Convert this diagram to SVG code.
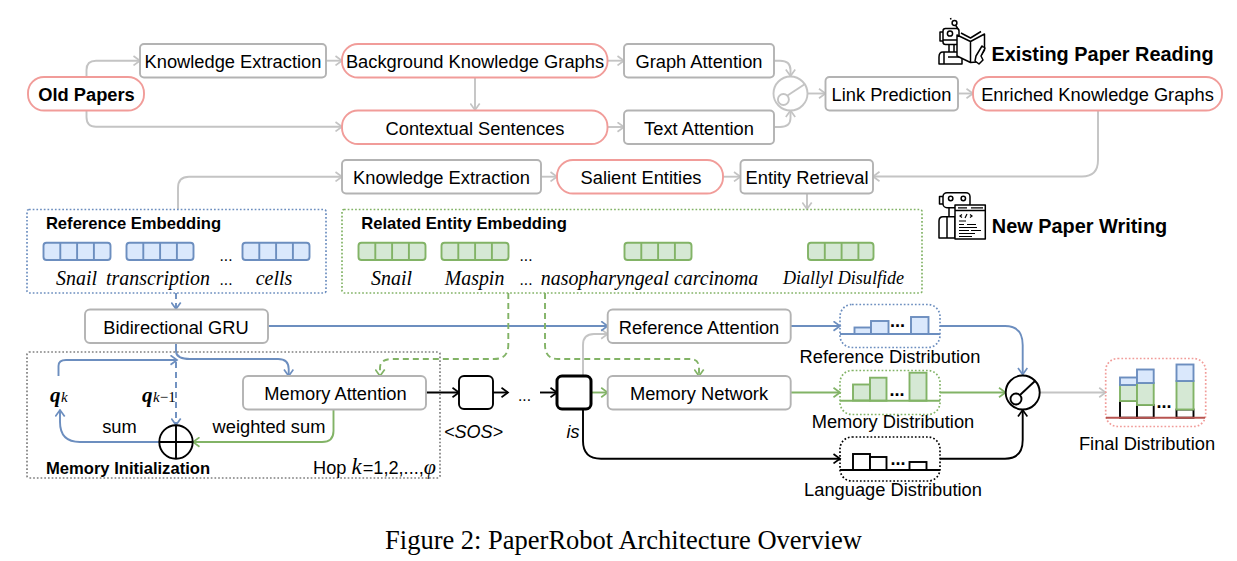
<svg xmlns="http://www.w3.org/2000/svg" width="1237" height="561" viewBox="0 0 1237 561">
<style>
text{font-family:"Liberation Sans",Arial,sans-serif;font-size:18.3px;fill:#000;text-anchor:middle}
.b{font-weight:bold}
.h{font-weight:bold;font-size:16.6px}
.t{font-weight:bold;font-size:19.9px}
.e{font-size:15.6px}
.bd{font-weight:bold;font-size:18px}
.s{font-family:"Liberation Serif","Times New Roman",serif;font-style:italic;font-size:19.9px}
.box{fill:#fff;stroke:#b3b3b3;stroke-width:1.9}
.pill{fill:#fff;stroke:#f19c99;stroke-width:1.9}
.c{fill:none;stroke-width:1.9}
.gr{stroke:#c4c4c4}.bl{stroke:#6c8ebf}.gn{stroke:#82b366}.bk{stroke:#000}
.d{stroke-dasharray:6 4}
.dot{fill:none;stroke-width:1.7;stroke-dasharray:1.7 2}
.be{fill:#dae8fc;stroke:#6c8ebf;stroke-width:1.9}
.ge{fill:#d5e8d4;stroke:#82b366;stroke-width:1.9}
.w{fill:#fff;stroke:#000;stroke-width:1.9}
.i{fill:none;stroke:#000;stroke-width:1.5;stroke-linejoin:round}
.iw{fill:#fff;stroke:#000;stroke-width:1.5;stroke-linejoin:round}
</style>
<defs>
<marker id="ag" markerWidth="10" markerHeight="11" refX="8.5" refY="5.5" orient="auto" markerUnits="userSpaceOnUse"><path d="M2 0.8L8.5 5.5L2 10.2" fill="none" stroke="#c4c4c4" stroke-width="1.7"/></marker>
<marker id="ab" markerWidth="10" markerHeight="11" refX="8.5" refY="5.5" orient="auto" markerUnits="userSpaceOnUse"><path d="M2 0.8L8.5 5.5L2 10.2" fill="none" stroke="#6c8ebf" stroke-width="1.7"/></marker>
<marker id="an" markerWidth="10" markerHeight="11" refX="8.5" refY="5.5" orient="auto" markerUnits="userSpaceOnUse"><path d="M2 0.8L8.5 5.5L2 10.2" fill="none" stroke="#82b366" stroke-width="1.7"/></marker>
<marker id="ak" markerWidth="10" markerHeight="11" refX="8.5" refY="5.5" orient="auto" markerUnits="userSpaceOnUse"><path d="M2 0.8L8.5 5.5L2 10.2" fill="none" stroke="#000" stroke-width="1.7"/></marker>
<g id="cells"><path d="M16.8 0V17.3M33.6 0V17.3M50.4 0V17.3" fill="none" stroke-width="1.9"/></g>
</defs>

<g id="connectors">
<path class="c gr" marker-end="url(#ag)" d="M86.5 77V70Q86.5 60.7 96 60.7H140"/>
<path class="c gr" marker-end="url(#ag)" d="M86.5 110V117Q86.5 126.7 96 126.7H342"/>
<path class="c gr" marker-end="url(#ag)" d="M326 60.7H342"/>
<path class="c gr" marker-end="url(#ag)" d="M475 77V110"/>
<path class="c gr" marker-end="url(#ag)" d="M608 60.7H624"/>
<path class="c gr" marker-end="url(#ag)" d="M608 127H624"/>
<path class="c gr" marker-end="url(#ag)" d="M774 60.7H780Q790.5 60.7 790.5 70V76"/>
<path class="c gr" marker-end="url(#ag)" d="M774 127H780Q790.5 127 790.5 118V110.5"/>
<path class="c gr" marker-end="url(#ag)" d="M807.5 93.5H825.5"/>
<path class="c gr" marker-end="url(#ag)" d="M958 93.5H973"/>
<path class="c gr" marker-end="url(#ag)" d="M1098 110V160Q1098 176.5 1082 176.5H873"/>
<path class="c gr" marker-end="url(#ag)" d="M807 193V209"/>
<path class="c gr" marker-end="url(#ag)" d="M723 176.7H740.5"/>
<path class="c gr" marker-end="url(#ag)" d="M541 176.7H557"/>
<path class="c gr" marker-end="url(#ag)" d="M178 209V188Q178 176.7 189 176.7H342"/>
<path class="c gr" marker-end="url(#ag)" d="M583 376V345Q583 334 594 334H607.7"/>
<path class="c gr" marker-end="url(#ag)" d="M1040 392.5H1105.7"/>
<path class="c bl d" marker-end="url(#ab)" d="M176 293V309"/>
<path class="c bl" marker-end="url(#ab)" d="M268 326H607.7"/>
<path class="c bl" d="M176 343V352"/>
<path class="c bl" marker-end="url(#ab)" d="M176 352Q177 359 190 359H278Q288.7 359 288.7 369V376"/>
<path class="c bl d" marker-end="url(#ab)" d="M176 362V425"/>
<path class="c bl" marker-end="url(#ab)" d="M58.5 376V366Q58.5 360 66 360H177"/>
<path class="c bl" marker-end="url(#ab)" d="M159 442H80Q60 442 60 422V410"/>
<path class="c gn" marker-end="url(#an)" d="M333.5 409V431Q333.5 442 322 442H193"/>
<path class="c gn d" marker-end="url(#an)" d="M508.3 293V345Q508.3 359 494 359H392Q380 359 380 368V376"/>
<path class="c gn d" marker-end="url(#an)" d="M545 293V345Q545 359 558 359H690Q699 359 699 368V376"/>
<path class="c bk" marker-end="url(#ak)" d="M426 392.5H459"/>
<path class="c bk" marker-end="url(#ak)" d="M493 392.5H508"/>
<path class="c bk" marker-end="url(#ak)" d="M540 392.5H557"/>
<path class="c gn" marker-end="url(#an)" d="M591 392.5H607.7"/>
<path class="c bk" marker-end="url(#ak)" d="M583 409V441Q583 458.7 601 458.7H840"/>
<path class="c bl" marker-end="url(#ab)" d="M790.5 326H840"/>
<path class="c gn" marker-end="url(#an)" d="M790.5 392.5H840"/>
<path class="c bl" marker-end="url(#ab)" d="M940 326H1005Q1022.7 326 1022.7 345V374.5"/>
<path class="c gn" marker-end="url(#an)" d="M940 392.5H1005.5"/>
<path class="c bk" marker-end="url(#ak)" d="M940 458.7H1005Q1022.7 458.7 1022.7 440V410"/>
</g>

<g id="old-papers"><rect class="pill" x="28" y="77" width="116" height="33.5" rx="16"/><text class="b" x="86.5" y="100.5">Old Papers</text></g>
<g id="knowledge-extraction-1"><rect class="box" x="140" y="44" width="186" height="33.5" rx="4"/><text x="233" y="67.5">Knowledge Extraction</text></g>
<g id="background-knowledge-graphs"><rect class="pill" x="342" y="44" width="265.5" height="33.5" rx="16"/><text x="475" y="67.5">Background Knowledge Graphs</text></g>
<g id="contextual-sentences"><rect class="pill" x="342" y="110.5" width="265.5" height="33.5" rx="16"/><text x="475" y="134.5">Contextual Sentences</text></g>
<g id="graph-attention"><rect class="box" x="624" y="44" width="150" height="33.5" rx="4"/><text x="699" y="67.5">Graph Attention</text></g>
<g id="text-attention"><rect class="box" x="624" y="110.5" width="150" height="33.5" rx="4"/><text x="699" y="134.5">Text Attention</text></g>
<g id="switch-1"><circle cx="790.5" cy="93.5" r="17" fill="#fff" stroke="#c4c4c4" stroke-width="1.9"/><circle cx="783.4" cy="99.5" r="5.5" fill="#fff" stroke="#c4c4c4" stroke-width="1.9"/><path d="M787.5 95.5L805 84" fill="none" stroke="#c4c4c4" stroke-width="1.9"/></g>
<g id="link-prediction"><rect class="box" x="825.5" y="77" width="132.5" height="33.5" rx="4"/><text x="891.5" y="100.5">Link Prediction</text></g>
<g id="enriched-knowledge-graphs"><rect class="pill" x="973" y="77" width="249" height="33.5" rx="16"/><text x="1097.5" y="100.5">Enriched Knowledge Graphs</text></g>
<g id="knowledge-extraction-2"><rect class="box" x="342" y="160" width="199" height="33.5" rx="4"/><text x="441.5" y="183.5">Knowledge Extraction</text></g>
<g id="salient-entities"><rect class="pill" x="557" y="160" width="166" height="33.5" rx="16"/><text x="641" y="183.5">Salient Entities</text></g>
<g id="entity-retrieval"><rect class="box" x="740.5" y="160" width="132.5" height="33.5" rx="4"/><text x="807" y="183.5">Entity Retrieval</text></g>

<g id="icon-reading">
<circle class="i" cx="954.5" cy="23" r="2.4"/>
<path class="i" d="M951 19.5L950.5 18M955.5 25L958 29"/>
<rect class="iw" x="943" y="28.5" width="16" height="16" rx="2.5"/>
<path class="i" d="M943 32H940V41H943"/>
<circle class="i" cx="950" cy="33.5" r="2.6"/>
<path class="i" d="M943 40H958M949 44.5V52M954 44.5V52"/>
<path class="iw" d="M943 52H962V64H939V57Q939 52 943 52Z"/>
<path class="i" d="M944 52V64M948 57H962"/>
<path class="iw" d="M957 35L970.5 41.5V62.5L957 56ZM970.5 41.5L984.5 34V50L977 62L970.5 62.5Z"/>
<path class="i" d="M961 33L970.5 38L981 31.5"/>
<path class="iw" d="M976 56L982 46L985 48L981 56L983 60L979 64L975 61Z"/>
</g>
<text class="t" x="1102.5" y="60.5">Existing Paper Reading</text>
<g id="icon-writing">
<rect class="iw" x="943" y="192.7" width="27" height="15" rx="4"/>
<path class="i" d="M943 196.5H939.5V204H943"/>
<circle class="i" cx="950.7" cy="198.5" r="2.2"/><circle class="i" cx="963.3" cy="198.5" r="2.2"/>
<path class="i" d="M949 207.7V216.5"/>
<path class="iw" d="M943 216.7H955V238H939V221Q939 216.7 943 216.7Z"/>
<path class="i" d="M947 216.7V238"/>
<rect class="iw" x="955" y="205" width="30.3" height="34"/>
<path class="i" d="M955 210.5H985.3"/>
<path style="fill:none;stroke:#000;stroke-width:1.2" d="M958 207.8H967M971 207.8H983M962 214.5L960 216L962 217.5M965 218L967 214M970 214.5L972 216L970 217.5M959 221H966M959 224.5H964M967 224.5H976M959 227.5H977M959 230.5H969M971 230.5H981M959 233.5H975M959 236.5H972"/>
</g>
<text class="t" x="1079.5" y="233">New Paper Writing</text>

<g id="reference-embedding">
<rect class="dot" stroke="#6c8ebf" x="27" y="209.5" width="299" height="83.5" rx="2"/>
<text class="h" x="133.5" y="229">Reference Embedding</text>
<rect class="be" x="43.5" y="242.7" width="67" height="17.3" rx="3"/><use href="#cells" x="43.5" y="242.7" stroke="#6c8ebf"/>
<rect class="be" x="126.5" y="242.7" width="67" height="17.3" rx="3"/><use href="#cells" x="126.5" y="242.7" stroke="#6c8ebf"/>
<rect class="be" x="242.5" y="242.7" width="67" height="17.3" rx="3"/><use href="#cells" x="242.5" y="242.7" stroke="#6c8ebf"/>
<text class="e" x="226" y="260.5">...</text>
<text class="s" x="76.5" y="285">Snail</text><text class="s" x="158" y="285">transcription</text><text class="e" x="226" y="285">...</text><text class="s" x="274" y="285">cells</text>
</g>

<g id="related-entity-embedding">
<rect class="dot" stroke="#82b366" x="342" y="209.5" width="580" height="83.5" rx="2"/>
<text class="h" x="464" y="229">Related Entity Embedding</text>
<rect class="ge" x="358.5" y="242.7" width="67" height="17.3" rx="3"/><use href="#cells" x="358.5" y="242.7" stroke="#82b366"/>
<rect class="ge" x="441.5" y="242.7" width="67" height="17.3" rx="3"/><use href="#cells" x="441.5" y="242.7" stroke="#82b366"/>
<rect class="ge" x="624.5" y="242.7" width="67" height="17.3" rx="3"/><use href="#cells" x="624.5" y="242.7" stroke="#82b366"/>
<rect class="ge" x="808" y="242.7" width="65.5" height="17.3" rx="3"/><use href="#cells" x="808" y="242.7" stroke="#82b366"/>
<text class="e" x="526" y="260.5">...</text>
<text class="s" x="391.5" y="285">Snail</text><text class="s" x="474.5" y="285">Maspin</text><text class="e" x="526" y="285">...</text><text class="s" x="649.5" y="285">nasopharyngeal carcinoma</text><text class="s" x="843.5" y="284" style="font-size:18.1px">Diallyl Disulfide</text>
</g>

<g id="bidirectional-gru"><rect class="box" x="85" y="309.5" width="183" height="33.5" rx="5"/><text x="176" y="333.5">Bidirectional GRU</text></g>

<g id="memory-initialization">
<rect class="dot" stroke="#808080" x="27" y="352" width="413" height="126" rx="2"/>
<text class="h" x="128" y="474">Memory Initialization</text>
<text x="313" y="474" style="text-anchor:start;font-size:18.2px">Hop <tspan class="s" style="font-size:23px">k</tspan><tspan dx="1">=1,2,...,</tspan><tspan class="s" style="font-size:22px">φ</tspan></text>
<text x="50" y="402" style="text-anchor:start;font-family:'Liberation Serif',serif;font-style:italic;font-weight:bold;font-size:21px">q<tspan dx="0.5" style="font-weight:normal;font-size:15px">k</tspan></text>
<text x="142" y="402" style="text-anchor:start;font-family:'Liberation Serif',serif;font-style:italic;font-weight:bold;font-size:21px">q<tspan dx="0.5" style="font-weight:normal;font-size:15px">k</tspan><tspan style="font-weight:normal;font-style:normal;font-size:15px">−1</tspan></text>
<text x="119.5" y="433">sum</text>
<text x="269" y="433">weighted sum</text>
</g>
<g id="memory-attention"><rect class="box" x="243" y="376" width="183" height="33.5" rx="5"/><text x="335.5" y="400">Memory Attention</text></g>
<g id="sum-node"><circle cx="176" cy="442" r="16.7" fill="#fff" stroke="#000" stroke-width="1.9"/><path d="M159.3 442H192.7M176 425.3V458.7" fill="none" stroke="#000" stroke-width="1.9"/></g>

<g id="sos-cell"><rect fill="#fff" stroke="#000" stroke-width="1.9" x="459" y="376" width="34" height="33" rx="5"/><text x="473.5" y="438" style="font-style:italic;font-size:18px">&lt;SOS&gt;</text></g>
<text class="e" x="524.5" y="401">...</text>
<g id="is-cell"><rect fill="#fff" stroke="#000" stroke-width="3" x="557" y="376" width="34" height="33" rx="5"/><text x="573" y="438" style="font-style:italic;font-size:18px">is</text></g>

<g id="reference-attention"><rect class="box" x="607.7" y="309.5" width="183" height="33.5" rx="5"/><text x="699" y="333.5">Reference Attention</text></g>
<g id="memory-network"><rect class="box" x="607.7" y="376" width="183" height="33.5" rx="5"/><text x="699" y="400">Memory Network</text></g>

<g id="reference-distribution">
<rect class="dot" stroke="#6c8ebf" x="840" y="304.5" width="100" height="43" rx="12"/>
<rect class="be" x="854.5" y="327.5" width="16.5" height="6.5"/><rect class="be" x="871" y="321" width="17.5" height="13"/><rect class="be" x="911" y="317" width="17.5" height="17"/>
<path d="M840 334H940" stroke="#6c8ebf" stroke-width="1.9" fill="none"/>
<text class="bd" x="897.5" y="327">...</text>
<text x="890" y="363">Reference Distribution</text>
</g>
<g id="memory-distribution">
<rect class="dot" stroke="#82b366" x="840" y="370.5" width="100" height="44" rx="12"/>
<rect class="ge" x="853" y="384.5" width="17" height="16"/><rect class="ge" x="870" y="377.7" width="16.5" height="23"/><rect class="ge" x="909.5" y="372.7" width="17" height="28"/>
<path d="M840 400.7H940" stroke="#82b366" stroke-width="1.9" fill="none"/>
<text class="bd" x="897" y="396">...</text>
<text x="893" y="428">Memory Distribution</text>
</g>
<g id="language-distribution">
<rect class="dot" stroke="#000" x="840" y="437" width="100" height="44" rx="12"/>
<rect class="w" x="853" y="454" width="17" height="16"/><rect class="w" x="870" y="457" width="16.5" height="13"/><rect class="w" x="909.5" y="462" width="17" height="8"/>
<path d="M840 470H940" stroke="#000" stroke-width="1.9" fill="none"/>
<text class="bd" x="898" y="465">...</text>
<text x="893" y="496">Language Distribution</text>
</g>
<g id="switch-2"><circle cx="1022.7" cy="392.5" r="17" fill="#fff" stroke="#000" stroke-width="1.9"/><circle cx="1016" cy="399" r="5.5" fill="#fff" stroke="#000" stroke-width="1.9"/><path d="M1020 395L1035 381" fill="none" stroke="#000" stroke-width="1.9"/></g>
<g id="final-distribution">
<rect class="dot" stroke="#f19c99" x="1105.7" y="358.5" width="100" height="68" rx="12"/>
<rect class="w" x="1120" y="401" width="17" height="16.7"/><rect class="ge" x="1120" y="385" width="17" height="16"/><rect class="be" x="1120" y="377.5" width="17" height="7.5"/>
<rect class="w" x="1137" y="405" width="16.7" height="12.7"/><rect class="ge" x="1137" y="383" width="16.7" height="22"/><rect class="be" x="1137" y="369.5" width="16.7" height="13.5"/>
<rect class="w" x="1176.5" y="409.5" width="17" height="8.2"/><rect class="ge" x="1176.5" y="381" width="17" height="28.5"/><rect class="be" x="1176.5" y="364.5" width="17" height="16.5"/>
<path d="M1106 417.7H1205" stroke="#b85450" stroke-width="1.9" fill="none"/>
<text class="bd" x="1164" y="408">...</text>
<text x="1147" y="450">Final Distribution</text>
</g>

<text x="623.5" y="549" style="font-family:'Liberation Serif','Times New Roman',serif;font-size:26.5px">Figure 2: PaperRobot Architecture Overview</text>
</svg>
